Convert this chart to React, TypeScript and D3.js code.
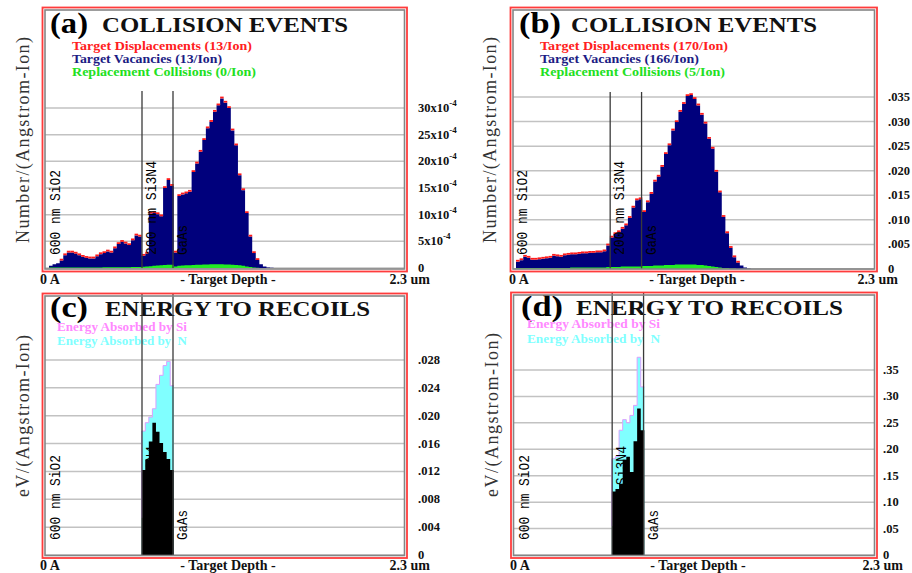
import * as d3 from 'd3'

// SRIM depth histogram: 100 bins over 2.3 um
const BIN_NM = 23
const DEPTH_MAX = 2300
const LAYER_EDGES = [600, 800]
const LAYER_NAMES = ['600 nm SiO2', '200 nm Si3N4', 'GaAs']

// (a) collision events, values in units of 1e-4 per (Angstrom-Ion), bins from 0
const vacanciesA = [
  0.4, 0.7, 0.9, 1.4, 2.4, 2.9, 2.9, 2.7, 2.4, 2.1,
  1.9, 1.8, 1.8, 2.2, 2.6, 2.8, 3.1, 2.9, 3.7, 4.5,
  4.9, 4.6, 4.3, 5.2, 6.1, 5.9, 2.3, 2.7, 10.2, 10.3,
  10.1, 9.7, 15.0, 16.5, 15.4, 2.9, 13.5, 13.8, 14.0, 14.3,
  18.0, 19.6, 21.8, 24.0, 26.2, 27.4, 29.3, 30.5, 31.8, 31.0,
  30.0, 25.8, 23.0, 17.4, 14.6, 10.3, 5.9, 2.8, 1.5, 0.7,
  0.3, 0.1, 0.05,
]
const displacementsA = vacanciesA // 13/Ion vs 13/Ion: same profile
const replacementsA = [
  0.1, 0.1, 0.1, 0.1, 0.1, 0.1, 0.1, 0.1, 0.1, 0.1,
  0.1, 0.1, 0.1, 0.1, 0.1, 0.12, 0.12, 0.12, 0.15, 0.15,
  0.15, 0.15, 0.15, 0.18, 0.18, 0.2, 0.25, 0.3, 0.35, 0.4,
  0.45, 0.5, 0.55, 0.6, 0.6, 0.3, 0.4, 0.45, 0.5, 0.5,
  0.55, 0.6, 0.6, 0.65, 0.65, 0.7, 0.7, 0.7, 0.7, 0.65,
  0.65, 0.6, 0.55, 0.5, 0.4, 0.3, 0.2, 0.1, 0.05, 0.02,
  0, 0, 0,
]

// (b) collision events, per (Angstrom-Ion)
const vacanciesB = [
  .0015, .0018, .0025, .0023, .0019, .0019, .0020, .0021, .0022, .0023,
  .0027, .0026, .0025, .0028, .0029, .0030, .0030, .0031, .0032, .0032,
  .0033, .0033, .0034, .0034, .0036, .0048, .0064, .0071, .0075, .0082,
  .0089, .0104, .0125, .0140, .0142, .0116, .0136, .0153, .0178, .0188,
  .0208, .0234, .0252, .0282, .0299, .0320, .0336, .0352, .0354, .0346,
  .0333, .0314, .0296, .0265, .0245, .0198, .0156, .0106, .0073, .0043,
  .0024, .0013, .0007, .0003, .0001,
]
const displacementsB = vacanciesB
const replacementsB = [
  .0002, .0002, .0002, .0002, .0002, .0002, .0002, .0002, .0002, .0002,
  .0002, .0002, .0002, .0002, .0002, .0003, .0003, .0003, .0003, .0003,
  .0003, .0003, .0003, .0003, .0003, .0004, .0004, .0004, .0004, .0005,
  .0005, .0005, .0005, .0005, .0005, .0006, .0006, .0006, .0007, .0007,
  .0007, .0008, .0008, .0008, .0009, .0009, .0009, .0009, .0009, .0009,
  .0008, .0008, .0007, .0006, .0005, .0004, .0003, .0002, .0002, .0001,
  .0001, 0, 0, 0, 0,
]

// (c), (d) energy to recoils, only inside the Si3N4 layer (bins 26..34)
const ENERGY_FIRST_BIN = 26
const energySiC = [.0122, .0137, .0163, .0190, .0177, .0161, .0148, .0138, .0122]
const energyTotalC = [.0178, .0190, .0198, .0210, .0245, .0258, .0272, .0278, .0243]
const energySiD = [.120, .125, .135, .180, .186, .157, .215, .277, .236]
const energyTotalD = [.182, .186, .236, .256, .250, .264, .283, .374, .318]

const ticksA = [0, 5, 10, 15, 20, 25, 30]
const ticksB = [0, .005, .010, .015, .020, .025, .030, .035]
const ticksC = [0, .004, .008, .012, .016, .020, .024, .028]
const ticksD = [0, .05, .10, .15, .20, .25, .30, .35]

const SERIF = "'Liberation Serif', 'Times New Roman', serif"
const MONO = "'Liberation Mono', monospace"

type Pt = [number, number]

const stepPoints = (vals: number[], start: number): Pt[] => {
  const pts: Pt[] = vals.map((v, i) => [(start + i) * BIN_NM, v])
  pts.push([(start + vals.length) * BIN_NM, vals[vals.length - 1]])
  return pts
}

const fmtDec = (digits: number) => (v: number) =>
  v === 0 ? '0' : d3.format(`.${digits}f`)(v).replace(/^0/, '')

interface Legend { text: string; color: string; width: number }

interface PanelCfg {
  kind: 'collision' | 'energy'
  frame: [number, number, number, number]
  xRange: [number, number]
  baseline: number
  top: number
  yMax: number
  ticks: number[]
  tickX: number
  tickLabel: (v: number) => any
  tag: string
  tagW: number
  title: string
  titleX: number
  titleW: number
  titleY: number
  legendX: number
  legendY: number
  legendStep: number
  legend: Legend[]
  yLabel: string
  yLabelX: number
  yLabelY: number
  yLabelW: number
  layerTop: number
  layerLabelBottom: number
  axisY: number
  axisX: [number, number, number]
  main?: number[]
  outline?: number[]
  under?: number[]
  total?: number[]
  si?: number[]
}

function Panel(p: PanelCfg) {
  const x = d3.scaleLinear().domain([0, DEPTH_MAX]).range(p.xRange)
  const y = d3.scaleLinear().domain([0, p.yMax]).range([p.baseline, p.top])
  const [fx0, fy0, fx1, fy1] = p.frame
  const gx0 = fx0 + 2.5, gy0 = fy0 + 2.5, gx1 = fx1 - 2.5, gy1 = fy1 - 2.5

  const area = d3.area<Pt>().x(d => x(d[0])).y0(y(0)).y1(d => y(d[1])).curve(d3.curveStepAfter)
  const line = d3.line<Pt>().x(d => x(d[0])).y(d => y(d[1])).curve(d3.curveStepAfter)

  const labelOffsets = [7, 10, 10]
  const labelLens = [85, 94, 30]
  const layerStarts = [0, ...LAYER_EDGES]

  return (
    <g>
      {/* grid */}
      {p.ticks.map(t => (
        <line key={t} x1={gx0} x2={gx1} y1={y(t)} y2={y(t)} stroke="#c2c2c2" strokeWidth={1.5} />
      ))}

      {/* data */}
      {p.kind === 'collision' && p.main && p.outline && p.under && (
        <g>
          <path d={area(stepPoints(p.main, 0)) ?? ''} fill="#00007c" />
          {/* displacements: red caps on each bin top */}
          {p.outline.map((v, i) => v > 0.02 * p.yMax ? (
            <line key={i} x1={x(i * BIN_NM)} x2={x((i + 1) * BIN_NM)} y1={y(v) - 0.9} y2={y(v) - 0.9}
              stroke="#ff1a1a" strokeWidth={1.8} />
          ) : null)}
          <path d={area(stepPoints(p.under, 0)) ?? ''} fill="#22ee22" />
        </g>
      )}
      {p.kind === 'energy' && p.total && p.si && (
        <g>
          <path d={area(stepPoints(p.total, ENERGY_FIRST_BIN)) ?? ''} fill="#80ffff" />
          <path d={area(stepPoints(p.si, ENERGY_FIRST_BIN)) ?? ''} fill="#000" />
          <path
            d={line([[ENERGY_FIRST_BIN * BIN_NM, p.total[0] * 0.3], ...stepPoints(p.total, ENERGY_FIRST_BIN)]) ?? ''}
            fill="none" stroke="#d9a0ff" strokeWidth={1} />
        </g>
      )}

      {/* layer names */}
      {LAYER_NAMES.map((name, i) => {
        const lx = x(layerStarts[i]) + labelOffsets[i]
        return (
          <text key={name} transform={`translate(${lx},${p.layerLabelBottom}) rotate(-90)`}
            fontFamily={MONO} fontSize={14} fill="#000" dominantBaseline="central"
            textLength={labelLens[i]} lengthAdjust="spacingAndGlyphs">{name}</text>
        )
      })}

      {/* y tick labels */}
      {p.ticks.map(t => (
        <text key={t} x={p.tickX} y={y(t)} dominantBaseline="central" fontFamily={SERIF}
          fontWeight="bold" fontSize={12.5} fill="#111">{p.tickLabel(t)}</text>
      ))}

      {/* title */}
      <text x={p.titleX - (p.title.startsWith('C') ? 52 : 55)} y={p.titleY + 1} fontFamily={SERIF}
        fontWeight="bold" fontSize={29} textLength={p.tagW} lengthAdjust="spacingAndGlyphs">{p.tag}</text>
      <text x={p.titleX} y={p.titleY} fontFamily={SERIF} fontWeight="bold" fontSize={21}
        textLength={p.titleW} lengthAdjust="spacingAndGlyphs" fill="#111">{p.title}</text>

      {/* legend */}
      {p.legend.map((l, i) => (
        <text key={l.text} x={p.legendX} y={p.legendY + i * p.legendStep} fontFamily={SERIF}
          fontWeight="bold" fontSize={12.5} fill={l.color} textLength={l.width}
          lengthAdjust="spacingAndGlyphs" style={{ whiteSpace: 'pre' }}>{l.text}</text>
      ))}

      {/* layer boundaries */}
      {LAYER_EDGES.map(d => (
        <line key={d} x1={x(d)} x2={x(d)} y1={p.layerTop} y2={p.baseline} stroke="#3a3a3a" strokeWidth={1.3} />
      ))}

      {/* y axis label */}
      <text transform={`translate(${p.yLabelX},${p.yLabelY}) rotate(-90)`} textAnchor="middle"
        dominantBaseline="central" fontFamily={SERIF} fontSize={18} fill="#333"
        textLength={p.yLabelW} lengthAdjust="spacing">{p.yLabel}</text>

      {/* x axis labels */}
      <g fontFamily={SERIF} fontWeight="bold" fontSize={14} fill="#111">
        <text x={p.axisX[0]} y={p.axisY}>0 A</text>
        <text x={p.axisX[1]} y={p.axisY} textAnchor="middle">- Target Depth -</text>
        <text x={p.axisX[2]} y={p.axisY} textAnchor="end">2.3 um</text>
      </g>

      {/* frame */}
      <rect x={gx0} y={gy0} width={gx1 - gx0} height={gy1 - gy0} fill="none" stroke="#858585" strokeWidth={1.6} />
      <rect x={fx0} y={fy0} width={fx1 - fx0} height={fy1 - fy0} fill="none" stroke="#ff3c3c" strokeWidth={1.8} />
    </g>
  )
}

const tickA = (v: number) =>
  v === 0 ? '0' : (<>{v}x10<tspan dy={-5} fontSize={9}>-4</tspan></>)

export default function App() {
  const collisionLegend = (d: string, v: string, r: string, widths: number[]): Legend[] => [
    { text: `Target Displacements (${d}/Ion)`, color: '#ff2020', width: widths[0] },
    { text: `Target Vacancies (${v}/Ion)`, color: '#1c1c84', width: widths[1] },
    { text: `Replacement Collisions (${r}/Ion)`, color: '#22e022', width: widths[2] },
  ]
  const energyLegend = (w: number): Legend[] => [
    { text: 'Energy Absorbed by Si', color: '#ff88ff', width: w },
    { text: 'Energy Absorbed by  N', color: '#80ffff', width: w },
  ]

  const panels: PanelCfg[] = [
    {
      kind: 'collision', frame: [42.5, 7.5, 407, 271.5], xRange: [49, 405.5],
      baseline: 268, top: 12, yMax: 48, ticks: ticksA, tickX: 418, tickLabel: tickA,
      tag: '(a)', tagW: 38, title: 'COLLISION EVENTS', titleX: 102, titleW: 246, titleY: 32,
      legendX: 72, legendY: 50, legendStep: 13, legend: collisionLegend('13', '13', '0', [180, 150, 184]),
      yLabel: 'Number/(Angstrom-Ion)', yLabelX: 23, yLabelY: 140, yLabelW: 206,
      layerTop: 91, layerLabelBottom: 255, axisY: 284, axisX: [40, 228, 430],
      main: vacanciesA, outline: displacementsA, under: replacementsA,
    },
    {
      kind: 'collision', frame: [510.5, 7.5, 877, 271.5], xRange: [516, 877],
      baseline: 269, top: 13, yMax: 0.0521, ticks: ticksB, tickX: 888, tickLabel: fmtDec(3),
      tag: '(b)', tagW: 42, title: 'COLLISION EVENTS', titleX: 571, titleW: 246, titleY: 32,
      legendX: 540, legendY: 50, legendStep: 13, legend: collisionLegend('170', '166', '5', [188, 159, 185]),
      yLabel: 'Number/(Angstrom-Ion)', yLabelX: 490, yLabelY: 140, yLabelW: 206,
      layerTop: 92, layerLabelBottom: 255, axisY: 284, axisX: [509, 697, 898],
      main: vacanciesB, outline: displacementsB, under: replacementsB,
    },
    {
      kind: 'energy', frame: [42.5, 293.5, 407, 558], xRange: [49, 405.5],
      baseline: 555, top: 297, yMax: 0.03705, ticks: ticksC, tickX: 418, tickLabel: fmtDec(3),
      tag: '(c)', tagW: 38, title: 'ENERGY TO RECOILS', titleX: 105, titleW: 265, titleY: 316,
      legendX: 57, legendY: 331, legendStep: 14, legend: energyLegend(130),
      yLabel: 'eV/(Angstrom-Ion)', yLabelX: 23, yLabelY: 416, yLabelW: 162,
      layerTop: 294, layerLabelBottom: 540, axisY: 570, axisX: [40, 228, 430],
      total: energyTotalC, si: energySiC,
    },
    {
      kind: 'energy', frame: [511, 292.5, 877, 558], xRange: [518, 879],
      baseline: 555, top: 297, yMax: 0.488, ticks: ticksD, tickX: 883, tickLabel: fmtDec(2),
      tag: '(d)', tagW: 42, title: 'ENERGY TO RECOILS', titleX: 576, titleW: 267, titleY: 315,
      legendX: 527, legendY: 328, legendStep: 15, legend: energyLegend(133),
      yLabel: 'eV/(Angstrom-Ion)', yLabelX: 492, yLabelY: 415, yLabelW: 164,
      layerTop: 293, layerLabelBottom: 540, axisY: 570, axisX: [510, 698, 903],
      total: energyTotalD, si: energySiD,
    },
  ]

  return (
    <svg width={912} height={573} viewBox="0 0 912 573"
      style={{ position: 'absolute', left: 0, top: 0, background: '#fff' }}>
      {panels.map(p => <Panel key={p.tag} {...p} />)}
    </svg>
  )
}
